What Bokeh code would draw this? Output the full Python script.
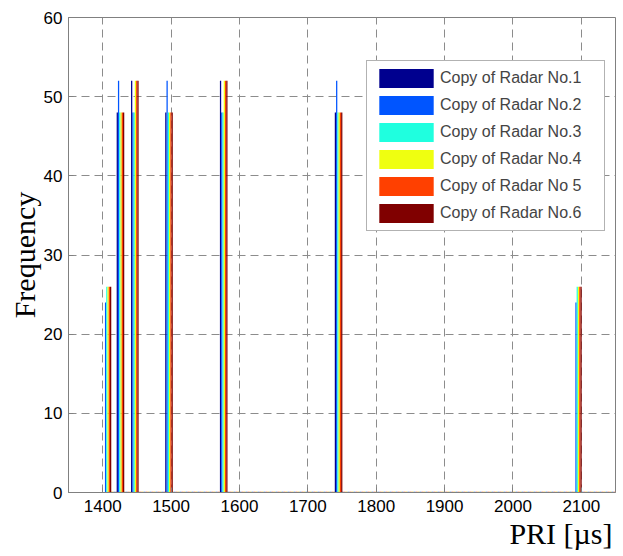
from bokeh.plotting import figure
from bokeh.models import Range1d, FixedTicker, Legend, LegendItem, ColumnDataSource, Title
from bokeh.embed import file_html
from bokeh.resources import INLINE

# ---- data ----
pri_bins = [1407, 1426, 1447, 1497, 1577, 1745, 2095]
radar_names = ["Copy of Radar No.1", "Copy of Radar No.2", "Copy of Radar No.3",
               "Copy of Radar No.4", "Copy of Radar No 5", "Copy of Radar No.6"]
radar1 = [0, 48, 52, 48, 52, 48, 0]
radar2 = [24, 52, 48, 52, 48, 52, 24]
radar3 = [26, 48, 48, 48, 48, 48, 26]
radar4 = [26, 48, 52, 48, 52, 48, 26]
radar5 = [26, 48, 52, 48, 52, 48, 26]
radar6 = [26, 48, 52, 48, 52, 48, 26]
series = [radar1, radar2, radar3, radar4, radar5, radar6]
colors = ["#00008F", "#0055FF", "#1FFFDF", "#EFFF10", "#FF4000", "#800000"]
x_ticks = [1400, 1500, 1600, 1700, 1800, 1900, 2000, 2100]
y_ticks = [0, 10, 20, 30, 40, 50, 60]

bar_w = 1.85

p = figure(width=616, height=556, output_backend="svg", toolbar_location=None,
           x_range=Range1d(1350, 2150), y_range=Range1d(0, 60),
           min_border_left=68, min_border_right=1, min_border_top=17,
           min_border_bottom=64)
p.background_fill_color = "white"
p.border_fill_color = "white"
p.outline_line_color = "#808080"

# zero-height bins baseline (coloured dashes)
for c, off in zip(["#80b0ff", "#f0e060", "#ff9f80"], [0, 2, 4]):
    p.segment(x0=[pri_bins[0]], y0=[0], x1=[2150], y1=[0], line_color=c,
              line_width=2, line_dash="2 4", line_dash_offset=off)

items = []
n = len(series)
for i, (vals, col, name) in enumerate(zip(series, colors, radar_names)):
    offset = (i - (n - 1) / 2) * bar_w
    src = ColumnDataSource(dict(x=[b + offset for b in pri_bins], top=vals))
    r = p.vbar(x="x", top="top", width=bar_w, bottom=0, source=src,
               fill_color=col, line_color=None)
    items.append(LegendItem(label=name, renderers=[r]))

legend = Legend(items=items, location=(298, 261), glyph_width=68, glyph_height=24,
                label_standoff=0, spacing=3, padding=5, label_width=159,
                label_text_font="Liberation Sans", label_text_font_size="16px",
                border_line_color="#666666", border_line_width=1,
                background_fill_color="white", background_fill_alpha=1.0)
p.add_layout(legend)

p.xaxis.ticker = FixedTicker(ticks=x_ticks)
p.yaxis.ticker = FixedTicker(ticks=y_ticks)
for ax in (p.xaxis, p.yaxis):
    ax.major_label_text_font = "Liberation Sans"
    ax.major_label_text_font_size = "17px"
    ax.major_label_text_color = "black"
    ax.axis_line_color = "#808080"
    ax.major_tick_line_color = "#808080"
    ax.major_tick_in = 5
    ax.major_tick_out = 0
    ax.minor_tick_line_color = None
    ax.axis_label_text_font = "Liberation Serif"
    ax.axis_label_text_font_style = "normal"
    ax.axis_label_text_font_size = "30px"
    ax.axis_label_text_color = "black"

p.xaxis.major_label_standoff = 7
p.yaxis.axis_label = "Frequency"
p.yaxis.axis_label_standoff = 0
p.yaxis.major_label_standoff = 6

# x-axis title, right-aligned under the axis (as in the reference)
xlab = Title(text="PRI [µs]", align="right", offset=3, standoff=0,
             text_font="Liberation Serif", text_font_style="normal",
             text_font_size="30px", text_color="black")
p.add_layout(xlab, "below")

for g in (p.xgrid, p.ygrid):
    g.grid_line_color = "#8c8c8c"
    g.grid_line_dash = "8 5"
    g.grid_line_width = 1

open("out.html", "w").write(file_html(p, INLINE))
